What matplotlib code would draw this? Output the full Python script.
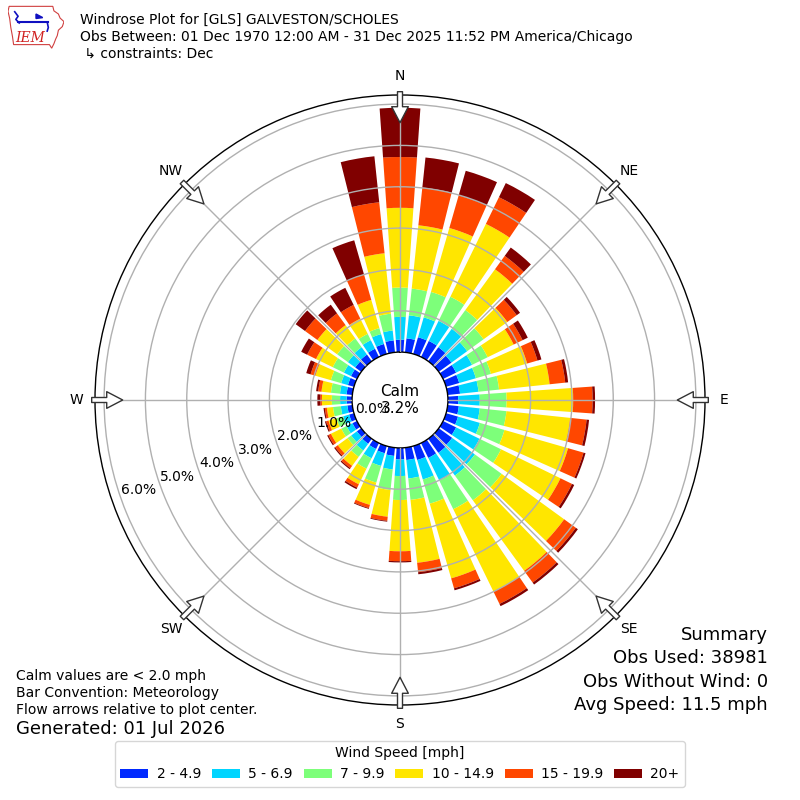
import numpy as np
import matplotlib
matplotlib.use("Agg")
import matplotlib.pyplot as plt
from matplotlib.patches import Patch, Polygon

# -------------------
# DATA
# -------------------
DIRECTIONS_DEG = np.arange(0, 360, 10)
SPEED_BINS = ["2 - 4.9", "5 - 6.9", "7 - 9.9", "10 - 14.9", "15 - 19.9", "20+"]

# cumulative percent at the top of each speed segment, one value per direction (0..350)
TOP_2 = [0.30, 0.34, 0.42, 0.43, 0.42, 0.38, 0.35, 0.33, 0.30, 0.25, 0.27, 0.30,
         0.35, 0.40, 0.42, 0.40, 0.35, 0.30, 0.28, 0.20, 0.18, 0.16, 0.15, 0.13,
         0.12, 0.12, 0.12, 0.13, 0.14, 0.15, 0.16, 0.18, 0.20, 0.22, 0.25, 0.29]
TOP_5 = [0.85, 0.90, 0.92, 0.97, 0.97, 0.85, 0.78, 0.75, 0.75, 0.77, 0.78, 0.85,
         0.98, 1.08, 1.10, 1.01, 0.84, 0.75, 0.68, 0.53, 0.50, 0.41, 0.35, 0.30,
         0.28, 0.27, 0.28, 0.29, 0.30, 0.32, 0.35, 0.40, 0.42, 0.45, 0.50, 0.53]
TOP_7 = [1.56, 1.55, 1.56, 1.62, 1.53, 1.34, 1.20, 1.13, 1.25, 1.42, 1.43, 1.47,
         1.56, 1.88, 1.84, 1.78, 1.45, 1.27, 1.26, 1.03, 0.92, 0.69, 0.54, 0.41,
         0.42, 0.44, 0.47, 0.49, 0.52, 0.58, 0.65, 0.72, 0.68, 0.62, 0.65, 0.94]
TOP_10 = [3.49, 3.09, 3.17, 3.58, 2.75, 2.05, 1.90, 2.04, 2.48, 3.03, 2.98, 3.07,
          3.16, 3.75, 3.95, 4.00, 3.33, 2.80, 2.50, 1.68, 1.48, 1.11, 0.81, 0.70,
          0.70, 0.64, 0.62, 0.73, 0.75, 0.97, 1.10, 1.31, 1.08, 1.03, 1.36, 2.41]
TOP_15 = [4.72, 4.01, 3.99, 4.30, 3.15, 2.33, 2.14, 2.30, 2.86, 3.50, 3.38, 3.46,
          3.47, 4.10, 4.30, 4.33, 3.58, 3.03, 2.74, 1.78, 1.56, 1.20, 0.88, 0.78,
          0.77, 0.70, 0.67, 0.77, 0.83, 1.09, 1.34, 1.68, 1.43, 1.40, 2.00, 3.65]
TOP_20 = [5.91, 4.74, 4.61, 4.68, 3.40, 2.43, 2.28, 2.40, 2.93, 3.56, 3.44, 3.51,
          3.53, 4.16, 4.36, 4.39, 3.63, 3.08, 2.77, 1.80, 1.58, 1.24, 0.91, 0.81,
          0.80, 0.73, 0.70, 0.84, 0.88, 1.20, 1.50, 1.96, 1.69, 1.86, 2.86, 4.77]

CALM_PCT = 3.2
RING_VALUES = [0, 1, 2, 3, 4, 5, 6]
COMPASS = ["N", "NE", "E", "SE", "S", "SW", "W", "NW"]
OBS_USED = 38981
OBS_NO_WIND = 0
AVG_SPEED = 11.5

# -------------------
# LAYOUT
# -------------------
R_MAX = 6.22
R_ORIGIN = 1.16
BAR_WIDTH_DEG = 8
RLABEL_ANGLE = 251
RLABEL_INSET = 0.46

colors = plt.get_cmap("jet")(np.linspace(0, 1, 7)[1:])

fig = plt.figure(figsize=(8, 8), dpi=100)
ax = fig.add_axes([95 / 800, 95 / 800, 610 / 800, 610 / 800], projection="polar")
ax.set_theta_zero_location("N")
ax.set_theta_direction(-1)

theta = np.deg2rad(DIRECTIONS_DEG)
bottom = np.zeros(len(theta))
for top, color in zip([TOP_2, TOP_5, TOP_7, TOP_10, TOP_15, TOP_20], colors):
    top = np.array(top)
    ax.bar(theta, top - bottom, bottom=bottom, width=np.deg2rad(BAR_WIDTH_DEG),
           color=color, linewidth=0, zorder=1)
    bottom = top

ax.set_ylim(0, R_MAX)
ax.set_rorigin(-R_ORIGIN)
ax.set_yticks(RING_VALUES[1:])
ax.set_yticklabels([])
ax.set_xticks(np.deg2rad(np.arange(0, 360, 45)))
ax.set_xticklabels(COMPASS, fontsize=10)
ax.tick_params(axis="x", pad=3)
ax.grid(True, color="#b0b0b0", lw=1)
ax.set_axisbelow(False)
for sp in ax.spines.values():
    sp.set_color("black")
    sp.set_linewidth(1)

# radial labels, just inside each ring
for v in RING_VALUES:
    ax.text(np.deg2rad(RLABEL_ANGLE), v - RLABEL_INSET, f"{v:.1f}%",
            ha="center", va="center", fontsize=10, zorder=6)

ax.text(0.5, 0.5, f"Calm\n{CALM_PCT}%", transform=ax.transAxes,
        ha="center", va="center", fontsize=11, zorder=6)

# hollow flow arrows at the compass points
for ang in np.arange(0, 360, 45):
    ax.annotate("", xy=(np.deg2rad(ang), 5.55), xytext=(np.deg2rad(ang), 6.30),
                arrowprops=dict(arrowstyle="simple,head_length=1.15,head_width=1.2,tail_width=0.36",
                                fc="white", ec="#333333", lw=1, shrinkA=0, shrinkB=0),
                annotation_clip=False, zorder=7)

# -------------------
# TEXT
# -------------------
fig.text(80 / 800, 1 - 20 / 800, "Windrose Plot for [GLS] GALVESTON/SCHOLES", va="center", fontsize=10)
fig.text(80 / 800, 1 - 37 / 800, "Obs Between: 01 Dec 1970 12:00 AM - 31 Dec 2025 11:52 PM America/Chicago",
         va="center", fontsize=10)
fig.text(80 / 800, 1 - 54 / 800, " \u21b3 constraints: Dec", va="center", fontsize=10)

fig.text(16 / 800, 1 - 676 / 800, "Calm values are < 2.0 mph", va="center", fontsize=10)
fig.text(16 / 800, 1 - 693 / 800, "Bar Convention: Meteorology", va="center", fontsize=10)
fig.text(16 / 800, 1 - 710 / 800, "Flow arrows relative to plot center.", va="center", fontsize=10)
fig.text(16 / 800, 1 - 729 / 800, "Generated: 01 Jul 2026", va="center", fontsize=13)

fig.text(768 / 800, 1 - 635 / 800, "Summary", ha="right", va="center", fontsize=13)
fig.text(768 / 800, 1 - 658 / 800, f"Obs Used: {OBS_USED}", ha="right", va="center", fontsize=13)
fig.text(768 / 800, 1 - 682 / 800, f"Obs Without Wind: {OBS_NO_WIND}", ha="right", va="center", fontsize=13)
fig.text(768 / 800, 1 - 705 / 800, f"Avg Speed: {AVG_SPEED} mph", ha="right", va="center", fontsize=13)

handles = [Patch(facecolor=c) for c in colors]
fig.legend(handles, SPEED_BINS, ncol=6, loc="upper center", bbox_to_anchor=(0.5, 1 - 734 / 800),
           title="Wind Speed [mph]", fontsize=10, title_fontsize=10,
           columnspacing=0.8, handletextpad=0.6)

# -------------------
# LOGO (rough IEM mark)
# -------------------
lax = fig.add_axes([8 / 800, 1 - 50 / 800, 56 / 800, 45 / 800])
lax.set_xlim(0, 1)
lax.set_ylim(0, 1)
lax.axis("off")
iowa = [(0.02, 0.97), (0.80, 0.97), (0.82, 0.87), (0.90, 0.80), (0.93, 0.71), (1.0, 0.63),
        (0.97, 0.52), (0.90, 0.44), (0.88, 0.32), (0.85, 0.24), (0.82, 0.14), (0.78, 0.04),
        (0.74, 0.12), (0.10, 0.12), (0.08, 0.30), (0.05, 0.50), (0.03, 0.70), (0.0, 0.86)]
lax.add_patch(Polygon(iowa, closed=True, fill=False, edgecolor="#d04040", lw=0.8))
lax.plot([0.18, 0.72], [0.62, 0.62], color="#1010c0", lw=1.5)
lax.plot([0.12, 0.18, 0.14, 0.20], [0.85, 0.75, 0.68, 0.60], color="#1010c0", lw=1.2)
lax.add_patch(Polygon([(0.50, 0.80), (0.62, 0.72), (0.50, 0.70)], closed=True, color="#1010c0"))
lax.plot([0.70, 0.72, 0.70], [0.62, 0.50, 0.42], color="#1010c0", lw=1.2)
lax.text(0.40, 0.26, "IEM", color="#d02020", fontsize=10, family="DejaVu Serif",
         style="italic", ha="center", va="center")

fig.savefig("out.png", dpi=100)
